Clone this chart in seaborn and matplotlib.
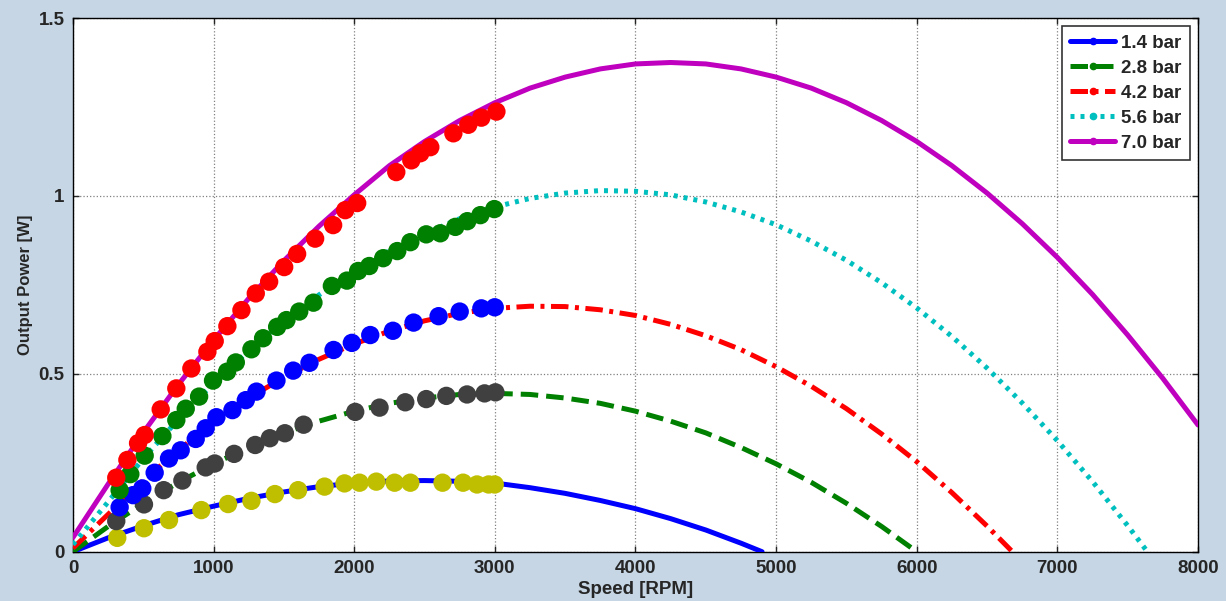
import numpy as np
import pandas as pd
import matplotlib
matplotlib.use("Agg")
import matplotlib.pyplot as plt
from matplotlib.lines import Line2D
import seaborn as sns

# model curves (speed in RPM, power in W)
speed_14 = [0, 250, 500, 750, 1000, 1250, 1500, 1750, 2000, 2250, 2500, 2750, 3000,
            3250, 3500, 3750, 4000, 4250, 4500, 4750, 4900]
power_14 = [0.0, 0.039, 0.073, 0.104, 0.128, 0.150, 0.168, 0.183, 0.193, 0.199, 0.200, 0.198, 0.193,
            0.180, 0.164, 0.144, 0.121, 0.093, 0.061, 0.024, 0.0]

speed_28 = [0, 250, 500, 750, 1000, 1250, 1500, 1750, 2000, 2250, 2500, 2750, 3000,
            3250, 3500, 3750, 4000, 4250, 4500, 4750, 5000, 5250, 5500, 5750, 6000]
power_28 = [0.0, 0.071, 0.136, 0.195, 0.247, 0.293, 0.334, 0.367, 0.395, 0.417, 0.432, 0.442, 0.445,
            0.442, 0.432, 0.417, 0.395, 0.367, 0.334, 0.293, 0.247, 0.195, 0.136, 0.071, 0.0]

speed_42 = [0, 250, 500, 750, 1000, 1250, 1500, 1750, 2000, 2250, 2500, 2750, 3000,
            3250, 3500, 3750, 4000, 4250, 4500, 4750, 5000, 5250, 5500, 5750, 6000, 6250, 6500, 6680]
power_42 = [0.01, 0.105, 0.200, 0.285, 0.365, 0.432, 0.490, 0.541, 0.584, 0.620, 0.649, 0.670, 0.684,
            0.690, 0.689, 0.680, 0.664, 0.639, 0.607, 0.568, 0.520, 0.465, 0.402, 0.331, 0.253, 0.166, 0.072, 0.0]

speed_56 = [0, 250, 500, 750, 1000, 1250, 1500, 1750, 2000, 2250, 2500, 2750, 3000,
            3250, 3500, 3750, 4000, 4250, 4500, 4750, 5000, 5250, 5500, 5750, 6000,
            6250, 6500, 6750, 7000, 7250, 7500, 7640]
power_56 = [0.02, 0.140, 0.262, 0.372, 0.474, 0.565, 0.648, 0.722, 0.788, 0.846, 0.894, 0.936, 0.969,
            0.993, 1.008, 1.015, 1.013, 1.003, 0.983, 0.955, 0.919, 0.873, 0.819, 0.756, 0.685,
            0.605, 0.516, 0.418, 0.312, 0.197, 0.073, 0.0]

speed_70 = [0, 250, 500, 750, 1000, 1250, 1500, 1750, 2000, 2250, 2500, 2750, 3000,
            3250, 3500, 3750, 4000, 4250, 4500, 4750, 5000, 5250, 5500, 5750, 6000,
            6250, 6500, 6750, 7000, 7250, 7500, 7750, 8000]
power_70 = [0.04, 0.190, 0.335, 0.470, 0.595, 0.712, 0.818, 0.915, 1.003, 1.085, 1.153, 1.212, 1.262,
            1.303, 1.334, 1.357, 1.371, 1.375, 1.371, 1.357, 1.334, 1.303, 1.262, 1.212, 1.153,
            1.085, 1.008, 0.922, 0.827, 0.723, 0.609, 0.487, 0.356]

# measured points
meas_x_14 = [315, 505, 683, 913, 1103, 1269, 1436, 1601, 1789, 1931, 2038, 2157, 2287, 2399,
             2628, 2774, 2873, 2956, 2999]
meas_y_14 = [0.039, 0.066, 0.089, 0.117, 0.134, 0.143, 0.162, 0.173, 0.183, 0.192, 0.194, 0.197,
             0.194, 0.194, 0.194, 0.194, 0.189, 0.189, 0.189]

meas_x_28 = [308, 505, 645, 778, 944, 1008, 1146, 1296, 1400, 1507, 1640, 2007, 2180, 2363,
             2512, 2655, 2802, 2927, 3004]
meas_y_28 = [0.086, 0.133, 0.173, 0.200, 0.237, 0.248, 0.275, 0.300, 0.319, 0.333, 0.357, 0.393,
             0.405, 0.420, 0.429, 0.438, 0.442, 0.445, 0.448]

meas_x_42 = [332, 427, 493, 581, 683, 766, 873, 944, 1020, 1134, 1229, 1305, 1447, 1566, 1682,
             1853, 1983, 2114, 2275, 2422, 2600, 2750, 2904, 2999]
meas_y_42 = [0.125, 0.159, 0.178, 0.222, 0.262, 0.285, 0.317, 0.347, 0.378, 0.398, 0.426, 0.450,
             0.481, 0.509, 0.531, 0.567, 0.587, 0.609, 0.621, 0.644, 0.662, 0.675, 0.684, 0.687]

meas_x_56 = [332, 408, 510, 636, 735, 802, 897, 996, 1096, 1158, 1269, 1352, 1452, 1518, 1609,
             1710, 1841, 1948, 2028, 2107, 2206, 2306, 2399, 2512, 2612, 2719, 2804, 2897, 2996]
meas_y_56 = [0.173, 0.218, 0.270, 0.325, 0.370, 0.402, 0.436, 0.481, 0.506, 0.532, 0.569, 0.600,
             0.632, 0.651, 0.675, 0.700, 0.747, 0.762, 0.789, 0.803, 0.825, 0.845, 0.870, 0.892,
             0.895, 0.913, 0.929, 0.946, 0.963]

meas_x_70 = [308, 387, 463, 510, 624, 735, 842, 956, 1008, 1098, 1198, 1300, 1395, 1502, 1594,
             1722, 1850, 1936, 2021, 2299, 2406, 2470, 2541, 2705, 2811, 2904, 3011]
meas_y_70 = [0.208, 0.258, 0.305, 0.328, 0.400, 0.459, 0.515, 0.562, 0.592, 0.634, 0.679, 0.726,
             0.759, 0.800, 0.837, 0.880, 0.918, 0.960, 0.980, 1.067, 1.100, 1.120, 1.137, 1.176,
             1.200, 1.220, 1.237]

labels = ["1.4 bar", "2.8 bar", "4.2 bar", "5.6 bar", "7.0 bar"]
line_colors = ["#0000ff", "#008000", "#ff0000", "#00bfbf", "#bf00bf"]
line_styles = ["-", (0, (3.5, 1.6)), (0, (3.5, 1.3, 0.8, 1.3)), (0, (0.8, 1.2)), "-"]
dot_colors = ["#bfbf00", "#404040", "#0000ff", "#008000", "#ff0000"]

curves = [(speed_14, power_14), (speed_28, power_28), (speed_42, power_42),
          (speed_56, power_56), (speed_70, power_70)]
points = [(meas_x_14, meas_y_14), (meas_x_28, meas_y_28), (meas_x_42, meas_y_42),
          (meas_x_56, meas_y_56), (meas_x_70, meas_y_70)]

sns.set_style("ticks")
plt.rcParams["font.family"] = ["Liberation Sans", "DejaVu Sans"]
plt.rcParams["font.weight"] = "bold"

fig = plt.figure(figsize=(12.26, 6.01), dpi=100, facecolor="#c6d6e4")
ax = fig.add_axes([0.0595, 0.082, 0.9177, 0.888])
ax.set_facecolor("white")

for (sx, sy), c, ls in zip(curves, line_colors, line_styles):
    df = pd.DataFrame({"speed": sx, "power": sy})
    sns.lineplot(data=df, x="speed", y="power", ax=ax, color=c, lw=3.6,
                 linestyle=ls, zorder=3, sort=False)

for (mx, my), c in zip(points, dot_colors):
    df = pd.DataFrame({"speed": mx, "power": my})
    sns.scatterplot(data=df, x="speed", y="power", ax=ax, color=c, s=175,
                    edgecolor="none", zorder=4)

ax.set_xlim(0, 8000)
ax.set_ylim(0, 1.5)
ax.set_xticks(range(0, 8001, 1000))
ax.set_yticks([0, 0.5, 1, 1.5])
ax.set_yticklabels(["0", "0.5", "1", "1.5"])
ax.tick_params(direction="in", length=4, width=1, top=True, right=True,
               labelsize=13.5, pad=6)
for lab in ax.get_xticklabels() + ax.get_yticklabels():
    lab.set_fontweight("bold")
ax.grid(True, color="#808080", linestyle=":", linewidth=0.9)
for sp in ax.spines.values():
    sp.set_linewidth(1.0)
    sp.set_color("black")

ax.set_xlabel("Speed [RPM]", fontsize=13.5, fontweight="bold", labelpad=3)
ax.set_ylabel("Output Power [W]", fontsize=12, fontweight="bold", labelpad=4)

handles = [Line2D([], [], color=c, lw=3.6, linestyle=ls, marker=".", markersize=9)
           for c, ls in zip(line_colors, line_styles)]
leg = ax.legend(handles, labels, loc="upper right", numpoints=1, handlelength=2.4,
                frameon=True, fancybox=False, edgecolor="black",
                borderaxespad=0.45, labelspacing=0.42, handletextpad=0.3,
                borderpad=0.45, prop={"weight": "bold", "size": 13.5})
leg.get_frame().set_linewidth(1.2)

fig.savefig("out.png", dpi=100, facecolor=fig.get_facecolor())
